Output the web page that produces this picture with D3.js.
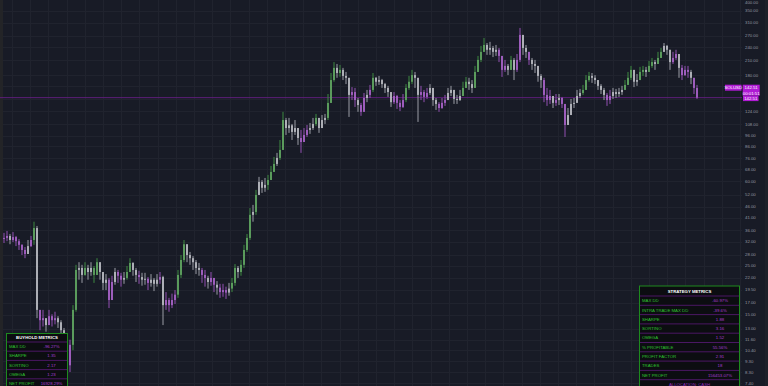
<!DOCTYPE html>
<html><head><meta charset="utf-8">
<script src="https://cdn.jsdelivr.net/npm/d3@7"></script>
<style>html,body{margin:0;padding:0;background:#181b26;overflow:hidden}</style>
</head><body>
<svg id="c" width="768" height="386"></svg>
<script>
// ---- data ----
const firstOpen = 33.0;
const closes = [
33.3,34.0,32.6,33.6,32.2,31.0,29.4,28.2,30.6,32.6,
36.9,15.8,14.2,14.5,13.5,14.8,14.2,14.5,13.9,12.8,
11.0,8.9,11.0,15.8,23.9,24.4,22.7,24.4,23.4,24.4,
22.7,25.9,23.4,20.9,21.6,17.5,21.1,23.4,22.5,21.6,
22.0,23.4,25.7,23.9,22.7,22.2,21.6,21.8,20.9,21.6,
20.7,21.6,22.2,16.6,17.5,16.6,17.5,18.5,22.7,26.5,
31.2,27.9,27.0,25.9,24.4,23.9,22.7,22.0,21.1,22.0,
20.5,19.9,19.0,19.4,18.9,19.7,20.9,24.4,23.4,25.2,
29.4,33.3,42.3,43.6,52.0,59.5,56.0,57.7,60.7,66.0,
71.7,76.3,82.9,113,104,107,99.9,104,93.8,90.0,
96.8,102,104,108.5,115.5,104,113,115.5,134.9,171,
194,184,190,178.5,175,146.6,151,139,132,123,
142,146.6,154.4,175,168,171,164,157.6,151,136,
145,135,129.4,139,157.6,168,180,175,146.6,151,
143.6,149.6,157.6,139,133.5,128,135,139,149.6,154.4,
140.6,139,145,157.6,168,164,157.6,186,210.7,229,
246,234,238.5,229,234,219.6,190,198,190,210.7,
190,210.7,273,238.5,229,210.7,202,198,178.5,171,
146.6,139,145,135,139,142,133.5,107.4,119,133.5,
135,145,149.6,154.4,171,178.5,175,171,161,154.4,
146.6,139,145,151,148,151,154.4,162.6,175,190,
168,171,186,190,186,198,206,202,215,229,
243.6,234,206,215,224,194,180,190,186,175,
157.6,142.51];
const highs = [
35.1,35.8,34.7,35.4,34.0,32.9,31.2,30.3,32.6,34.0,
39.4,37.7,15.5,15.8,14.5,15.8,15.1,15.5,14.8,14.2,
13.1,11.0,11.6,16.6,25.2,25.9,25.2,25.9,25.2,25.9,
24.9,27.0,25.9,23.4,22.9,22.0,22.5,24.4,23.9,23.2,
23.4,24.9,27.0,25.9,24.4,23.7,23.2,23.2,22.2,22.9,
22.0,22.9,23.4,22.5,19.0,17.9,18.7,19.4,23.9,27.9,
32.6,31.2,28.8,27.6,26.5,25.7,24.4,23.9,22.5,23.4,
22.0,21.3,20.7,20.7,20.1,20.9,22.0,25.4,24.9,26.5,
31.0,34.7,45.4,46.9,54.8,62.7,60.7,62.0,64.0,70.2,
77.1,80.4,91.9,123,115.5,115.5,108.5,113,104,102,
104,107.4,109.6,115.5,120.4,115.5,119,120.4,148,184,
206,202,200,194,186,175,159,157.6,142,135,
149.6,154.4,162.6,184,176.6,178.5,173,166,161,149.6,
151,146.6,139,148,164,178.5,190,186,171,161,
154.4,157.6,164,157.6,142,136,142,146.6,157.6,161,
151,146.6,154.4,168,176.6,175,171,198,219.6,243.6,
264.6,251,254,243.6,246,238.5,215,210.7,202,219.6,
215,224,293.5,259,246,229,215,210.7,194,182,
175,157.6,154.4,145,148,148,143.6,133.5,128,140.6,
142,154.4,156,162.6,180,186,184,180,171,164,
157.6,149.6,154.4,157.6,156,157.6,161,171,186,198,
186,182,196,198,196,208.5,215,210.7,229,238.5,
251,246,234,229,234,219.6,200,198,198,190,
175,162.6];
const lows = [
31.6,32.2,31.2,31.9,30.6,29.4,27.9,27.0,29.1,30.3,
31.0,14.5,12.8,13.3,12.6,13.9,13.3,13.6,13.1,12.1,
10.2,7.95,8.3,10.4,15.5,21.6,20.9,22.5,21.6,22.5,
20.9,23.4,21.6,19.4,19.4,16.1,17.9,20.5,20.9,20.1,
20.7,21.6,23.9,22.5,21.1,20.7,20.3,20.5,19.4,20.1,
19.2,20.1,20.7,13.5,15.8,15.5,16.1,16.8,17.9,22.0,
25.9,25.9,25.2,23.9,22.9,22.5,20.9,20.1,19.7,20.3,
19.0,18.5,17.9,18.1,17.7,18.3,19.0,20.3,22.0,22.5,
24.4,28.8,32.6,39.4,42.3,52.0,53.1,53.7,54.8,60.7,
67.4,70.2,74.7,82.9,96.8,98.9,91.9,96.8,87.3,80.4,
90.0,94.8,97.9,102,106.3,98.9,104,108.5,113,134.9,
168,175,177,171,164,116.7,139,129.4,123,118,
123,136,142,151,161,162.6,157.6,149.6,143.6,129.4,
133.5,126.8,124,128,136,154.4,164,157.6,110.8,139,
136,140.6,146.6,130.8,125.5,123,126.8,130.8,139,145,
133.5,133.5,137.7,148,157.6,154.4,149.6,157.6,186,206,
229,222,222,217,219.6,206,176.6,186,180,194,
171,186,206,222,215,200,190,184,168,157.6,
136,130.8,133.5,128,130.8,132,128,94.8,107.4,125.5,
128,137.7,142,146.6,154.4,168,166,164,154.4,148,
139,130.8,133.5,140.6,142,143.6,146.6,154.4,164,171,
159,161,175,178.5,176.6,186,194,190,202,215,
229,222,190,202,210.7,175,171,178.5,175,164,
148,140.6];
// regime per candle: g = green, p = purple, w = neutral
const states = ("ppwpppppwp"+"gwppwpppww"+"wwpggwwgww"+"ggwwwppwpp"+"wggwwpwwpw"+
  "wwpwppppgg"+"gwwwwwppwp"+"pwpppwggwg"+"gggwgwwwgg"+"gwggwwwwwp"+
  "ppwwgwwwgg"+"gwgwwwppwp"+"pwpgwwwwww"+"ppppgggwwp"+"ppwwwpppww"+
  "wwwggwwggg"+"gwwwwpppwg"+"wppwwpwwww"+"pppwpwppww"+"wwwgggwwww"+
  "wppwwwwggg"+"wwggwggwgg"+"wwwppwpppw"+"pp").split("");

const priceTicks = [400,350,310,270,240,210,180,160,140,124,108,96,86,76,68,60,52,46,41,36,32,28,25,22,19.5,17,15,13,11.6,10.4,9.3,8.3,7.4];
const symbol = "SOLUSD";
const lastPrice = 142.51;
const countdown = "00:01:51";

const stratTitle = "STRATEGY METRICS";
const stratLabels = ["MAX DD","INTRA TRADE MAX DD","SHARPE","SORTINO","OMEGA","% PROFITABLE","PROFIT FACTOR","TRADES","NET PROFIT"];
const stratValues = ["-60.97%","-39.6%","1.88","3.16","1.52","55.56%","2.91","18","156453.07%"];
const stratFooter = "ALLOCATION: CASH";
const bhTitle = "BUYHOLD METRICS";
const bhLabels = ["MAX DD","SHARPE","SORTINO","OMEGA","NET PROFIT"];
const bhValues = ["-96.27%","1.35","2.17","1.23","16928.29%"];

// ---- drawing ----
const W = 768, H = 386;
const svg = d3.select("#c");
const FONT = "'Liberation Sans', Arial, sans-serif";
const BG = "#181b26";
svg.append("rect").attr("width",W).attr("height",H).attr("fill",BG);

const N = closes.length;
const x = d3.scaleLinear().domain([0, N-1]).range([4, 697]);
const y = d3.scaleLog().domain([7.18, 392]).range([H, 0]);

// grid
const gridG = svg.append("g");
gridG.selectAll("line.v").data(d3.range(12, 745, 18.2)).join("line")
  .attr("x1",d=>Math.round(d)+0.5).attr("x2",d=>Math.round(d)+0.5).attr("y1",0).attr("y2",H)
  .attr("stroke","#20232e").attr("stroke-width",1);
gridG.selectAll("line.h").data(priceTicks).join("line")
  .attr("x1",0).attr("x2",742).attr("y1",d=>Math.round(y(d))+0.5).attr("y2",d=>Math.round(y(d))+0.5)
  .attr("stroke","#20232e").attr("stroke-width",1);

// left strip
svg.append("rect").attr("x",0).attr("y",0).attr("width",3).attr("height",H).attr("fill","#232427");

// price line
svg.append("line").attr("x1",0).attr("x2",742).attr("y1",y(lastPrice)).attr("y2",y(lastPrice))
  .attr("stroke","#5e1f7a").attr("stroke-width",1);

// candles
const colors = {g:"#67ad67", p:"#b068d0", w:"#c2c4ca"};
const wickColors = {g:"#3d8a40", p:"#9250b2", w:"#9a9da5"};
const candles = closes.map((c,i)=>{
  const o = i===0 ? firstOpen : closes[i-1];
  return {i, o, c, h: Math.max(highs[i], o, c), l: Math.min(lows[i], o, c), s: states[i]};
});
const cg = svg.append("g");
cg.selectAll("line").data(candles).join("line")
  .attr("x1",d=>x(d.i)).attr("x2",d=>x(d.i))
  .attr("y1",d=>y(d.h)).attr("y2",d=>y(d.l))
  .attr("stroke",d=>wickColors[d.s]).attr("stroke-width",1);
cg.selectAll("rect").data(candles).join("rect")
  .attr("x",d=>x(d.i)-0.8).attr("width",1.6)
  .attr("y",d=>y(Math.max(d.o,d.c)))
  .attr("height",d=>Math.max(1, Math.abs(y(d.o)-y(d.c))))
  .attr("fill",d=>colors[d.s]);

// axis labels
const axG = svg.append("g").attr("font-family",FONT).attr("font-size",4.3).attr("fill","#9598a1");
axG.selectAll("text").data(priceTicks).join("text")
  .attr("x",745).attr("y",d=>Math.max(4, y(d)+1.5)).text(d=>d.toFixed(2));
svg.append("rect").attr("x",765).attr("y",0).attr("width",3).attr("height",H).attr("fill","#1d2029");

// price label boxes
const MAG = "#b01ad4";
function box(x0,y0,w,h,txt){
  svg.append("rect").attr("x",x0).attr("y",y0).attr("width",w).attr("height",h).attr("fill",MAG);
  svg.append("text").attr("x",x0+w/2).attr("y",y0+h/2+1.5)
    .attr("text-anchor","middle").attr("font-family",FONT).attr("font-size",4.3).attr("fill","#ffffff").text(txt);
}
box(725,84.7,16.5,6,symbol);
box(742.7,84.7,17,11,"");
svg.append("text").attr("x",751.2).attr("y",89.2).attr("text-anchor","middle").attr("font-family",FONT).attr("font-size",4.3).attr("fill","#fff").text(lastPrice.toFixed(2));
svg.append("text").attr("x",751.2).attr("y",94.6).attr("text-anchor","middle").attr("font-family",FONT).attr("font-size",4.3).attr("fill","#fff").text(countdown);
box(743,95.7,15.5,5.4,lastPrice.toFixed(2));

// tables
const TBG = "#0c0d11", TBORDER = "#1e8a1e", TSEP = "#5a1a78", LBL = "#2fc22f", VAL = "#a93fd3";
function table(x0,x1,top,headH,rowH,title,labels,values,valCx,footer){
  const g = svg.append("g").attr("font-family",FONT).attr("font-size",4.3);
  const nRows = labels.length + (footer?1:0);
  const bottom = top + headH + rowH*nRows;
  g.append("rect").attr("x",x0).attr("y",top).attr("width",x1-x0).attr("height",bottom-top)
    .attr("fill",TBG).attr("stroke",TBORDER).attr("stroke-width",1);
  g.append("text").attr("x",(x0+x1)/2).attr("y",top+headH/2+1.6).attr("text-anchor","middle")
    .attr("fill","#ffffff").attr("font-weight","bold").text(title);
  const rows = labels.map((l,i)=>({l, v: values[i], yc: top+headH+rowH*i+rowH/2}));
  g.selectAll("line").data(d3.range(nRows)).join("line")
    .attr("x1",x0+0.5).attr("x2",x1-0.5)
    .attr("y1",i=>top+headH+rowH*i).attr("y2",i=>top+headH+rowH*i)
    .attr("stroke",TSEP).attr("stroke-width",0.8);
  g.selectAll("text.l").data(rows).join("text").attr("class","l")
    .attr("x",x0+2.5).attr("y",d=>d.yc+1.6).attr("fill",LBL).text(d=>d.l);
  g.selectAll("text.v").data(rows).join("text").attr("class","v")
    .attr("x",valCx).attr("y",d=>d.yc+1.6).attr("text-anchor","middle").attr("fill",VAL).text(d=>d.v);
  if(footer){
    g.append("text").attr("x",(x0+x1)/2).attr("y",top+headH+rowH*labels.length+rowH/2+1.2)
      .attr("text-anchor","middle").attr("fill","#8e2bb8").text(footer);
  }
}
table(639.5,739.5,286,10,9.3,stratTitle,stratLabels,stratValues,720,stratFooter);
table(6.5,67.5,333.5,8.5,9.2,bhTitle,bhLabels,bhValues,51.5,null);
</script>
</body></html>
